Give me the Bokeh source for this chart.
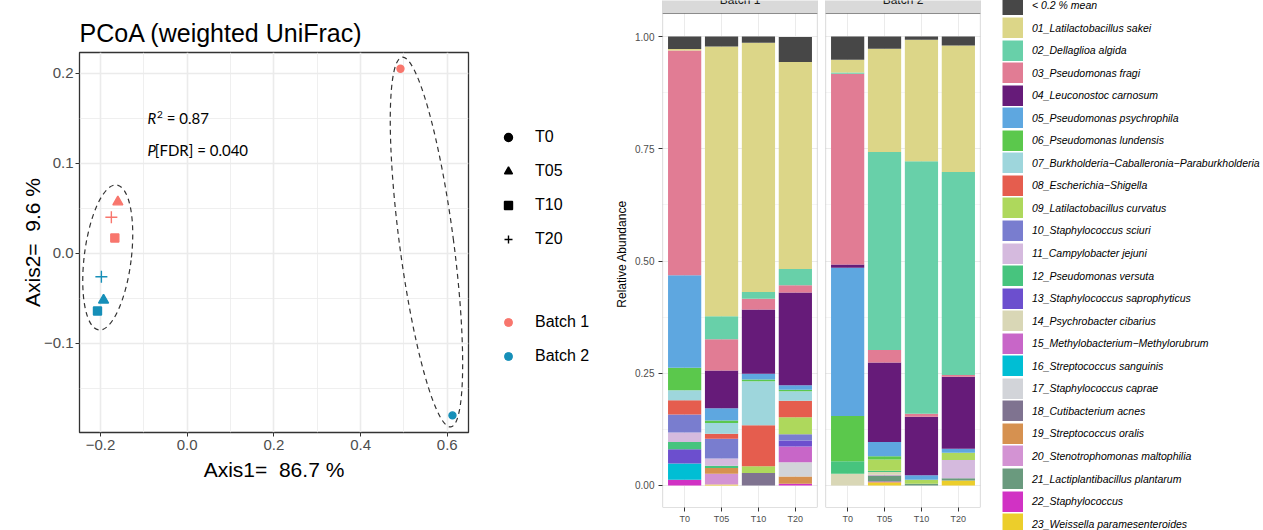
import numpy as np
from bokeh.plotting import figure
from bokeh.layouts import row
from bokeh.models import (ColumnDataSource, Range1d, FactorRange, FixedTicker,
                          CustomJSTickFormatter, PrintfTickFormatter, Legend,
                          LegendItem, Label, BoxAnnotation)
from bokeh.embed import file_html
from bokeh.resources import INLINE

# ---------------- PCoA data ----------------
TIMES = ["T0", "T05", "T10", "T20"]
BATCHES = ["Batch 1", "Batch 2"]
BATCH1_AXIS1 = [0.492, -0.160, -0.167, -0.175]
BATCH1_AXIS2 = [0.205, 0.057, 0.017, 0.040]
BATCH2_AXIS1 = [0.612, -0.193, -0.207, -0.198]
BATCH2_AXIS2 = [-0.180, -0.052, -0.064, -0.026]
BATCH_COLORS = ["#f8766d", "#168fb8"]
TIME_MARKERS = ["circle", "triangle", "square", "cross"]
TIME_SIZES = [7, 10, 8, 12]
X_TICKS = [-0.2, 0.0, 0.2, 0.4, 0.6]
Y_TICKS = [-0.1, 0.0, 0.1, 0.2]
AXIS1_LABEL = "Axis1=\u00a0 86.7 %"
AXIS2_LABEL = "Axis2=\u00a0 9.6 %"
PCOA_TITLE = "PCoA (weighted UniFrac)"
R2_VALUE = "= 0.87"
PFDR_VALUE = "[FDR] = 0.040"
# dashed ellipses: groups of time points, sizes (data units) and tilt
ELLIPSE_GROUPS = [["T05", "T10", "T20"], ["T0"]]
ELLIPSE_WIDTHS = [0.1085, 0.1247]
ELLIPSE_HEIGHTS = [0.1622, 0.4147]
ELLIPSE_ANGLES = [-0.123, 0.131]

# ---------------- composition data ----------------
FACTORS = ["T0", "T05", "T10", "T20"]
TAXA = ["< 0.2 % mean", "01_Latilactobacillus sakei", "02_Dellaglioa algida",
        "03_Pseudomonas fragi", "04_Leuconostoc carnosum", "05_Pseudomonas psychrophila",
        "06_Pseudomonas lundensis", "07_Burkholderia\u2212Caballeronia\u2212Paraburkholderia",
        "08_Escherichia\u2212Shigella", "09_Latilactobacillus curvatus",
        "10_Staphylococcus sciuri", "11_Campylobacter jejuni", "12_Pseudomonas versuta",
        "13_Staphylococcus saprophyticus", "14_Psychrobacter cibarius",
        "15_Methylobacterium\u2212Methylorubrum", "16_Streptococcus sanguinis",
        "17_Staphylococcus caprae", "18_Cutibacterium acnes", "19_Streptococcus oralis",
        "20_Stenotrophomonas maltophilia", "21_Lactiplantibacillus plantarum",
        "22_Staphylococcus", "23_Weissella paramesenteroides"]
TAXA_COLORS = ["#474747", "#dcd688", "#68d0a9", "#e17c94", "#661b79", "#5ea7e0",
               "#5bc84c", "#9ed6dc", "#e55d4e", "#aed85c", "#797dcf", "#d5bade",
               "#47c47e", "#6c4fce", "#d9d7b6", "#c866c8", "#00bed4", "#d2d4d9",
               "#7f7390", "#d69150", "#d393d3", "#6a9a7e", "#d132c4", "#ecce2b"]
B1_T0 = [0.028, 0.003, 0, 0.501, 0, 0.206, 0.050, 0.022, 0.032, 0, 0.040, 0.021,
         0.016, 0.032, 0, 0, 0.036, 0, 0, 0, 0, 0, 0.013, 0]
B1_T05 = [0.022, 0.601, 0.051, 0.070, 0.084, 0.027, 0.006, 0.024, 0.011, 0, 0.044, 0.016,
          0.005, 0, 0, 0, 0, 0, 0, 0.013, 0.024, 0, 0, 0.002]
B1_T10 = [0.014, 0.555, 0.015, 0.024, 0.143, 0.013, 0.004, 0.098, 0.091, 0.015, 0, 0,
          0, 0, 0, 0, 0, 0, 0.028, 0, 0, 0, 0, 0]
B1_T20 = [0.056, 0.461, 0.036, 0.016, 0.207, 0.010, 0.003, 0.021, 0.037, 0.038, 0.014, 0,
          0, 0.013, 0, 0.035, 0, 0.032, 0, 0.016, 0, 0, 0.004, 0]
B2_T0 = [0.052, 0.028, 0.003, 0.425, 0.007, 0.330, 0.101, 0, 0, 0, 0, 0,
         0.028, 0, 0.026, 0, 0, 0, 0, 0, 0, 0, 0, 0]
B2_T05 = [0.027, 0.230, 0.441, 0.028, 0.177, 0.032, 0.007, 0, 0, 0.025, 0, 0,
          0.003, 0, 0.006, 0, 0, 0, 0, 0, 0.002, 0.013, 0.002, 0.007]
B2_T10 = [0.007, 0.271, 0.562, 0.007, 0.130, 0.010, 0, 0, 0, 0.009, 0, 0,
          0, 0, 0, 0, 0, 0, 0, 0, 0, 0.004, 0, 0]
B2_T20 = [0.020, 0.282, 0.452, 0.004, 0.160, 0.009, 0, 0, 0, 0.016, 0, 0.041,
          0, 0, 0, 0, 0, 0, 0, 0, 0, 0.005, 0, 0.011]
BAR_TICKS = [0.0, 0.25, 0.5, 0.75, 1.0]

FONT = "Liberation Sans"
GRID = "#ebebeb"
DARK = "#333333"
TICK_TXT = "#4d4d4d"


def minors(ticks):
    step = ticks[1] - ticks[0]
    mids = [(a + b) / 2 for a, b in zip(ticks[:-1], ticks[1:])]
    return [ticks[0] - step / 2] + mids + [ticks[-1] + step / 2]


def style_axis(ax, tick_size, label_size, standoff, label_standoff):
    ax.axis_line_color = None
    ax.major_tick_line_color = DARK
    ax.major_tick_line_width = 1
    ax.major_tick_out = 4
    ax.major_tick_in = 0
    ax.minor_tick_line_color = None
    ax.major_label_text_font = FONT
    ax.major_label_text_font_size = tick_size
    ax.major_label_text_color = TICK_TXT
    ax.major_label_standoff = standoff
    ax.axis_label_text_font = FONT
    ax.axis_label_text_font_size = label_size
    ax.axis_label_text_font_style = "normal"
    ax.axis_label_text_color = "black"
    ax.axis_label_standoff = label_standoff


def legend_canvas(width):
    f = figure(width=width, height=530, x_range=Range1d(0, 1), y_range=Range1d(0, 1),
               output_backend="svg", toolbar_location=None, x_axis_location=None,
               y_axis_location=None, min_border_left=0, min_border_right=0,
               min_border_top=0, min_border_bottom=0, frame_align=False,
               background_fill_color="white", border_fill_color="white")
    f.outline_line_color = None
    f.xgrid.grid_line_color = None
    f.ygrid.grid_line_color = None
    return f


# ================= PCoA =================
p = figure(width=480, height=530, x_range=Range1d(-0.2485, 0.649),
           y_range=Range1d(-0.199, 0.223), output_backend="svg", toolbar_location=None,
           min_border_left=79, min_border_right=12, min_border_top=52,
           min_border_bottom=98, frame_align=False,
           background_fill_color="white", border_fill_color="white")
p.outline_line_color = DARK
p.outline_line_width = 1.3
p.title.text = PCOA_TITLE
p.title.text_font = FONT
p.title.text_font_size = "25px"
p.title.text_font_style = "normal"
p.title.text_color = "black"
p.title.align = "left"
p.title.standoff = 12

p.xaxis.ticker = FixedTicker(ticks=X_TICKS, minor_ticks=minors(X_TICKS))
p.yaxis.ticker = FixedTicker(ticks=Y_TICKS, minor_ticks=minors(Y_TICKS))
fmt = CustomJSTickFormatter(code="""
const v = Math.abs(tick) < 1e-9 ? 0 : tick;
return (v < 0 ? "\u2212" : "") + Math.abs(v).toFixed(1);
""")
p.xaxis.formatter = fmt
p.yaxis.formatter = fmt
p.xaxis.axis_label = AXIS1_LABEL
p.yaxis.axis_label = AXIS2_LABEL
style_axis(p.xaxis[0], "15px", "21px", 3, 5)
style_axis(p.yaxis[0], "15px", "21px", 2, -3)
for g in (p.xgrid[0], p.ygrid[0]):
    g.grid_line_color = GRID
    g.grid_line_width = 1.6
    g.minor_grid_line_color = GRID
    g.minor_grid_line_width = 0.8

# points
px = BATCH1_AXIS1 + BATCH2_AXIS1
py = BATCH1_AXIS2 + BATCH2_AXIS2
ptime = TIMES * 2
pcol = [BATCH_COLORS[0]] * 4 + [BATCH_COLORS[1]] * 4
pmark = TIME_MARKERS * 2
psize = TIME_SIZES * 2
src = ColumnDataSource(dict(x=px, y=py, t=ptime, color=pcol, marker=pmark, size=psize))
p.scatter(x="x", y="y", marker="marker", size="size", fill_color="color",
          line_color="color", line_width=1.4, source=src)

# ellipses centred on the group means
ecx, ecy = [], []
for grp in ELLIPSE_GROUPS:
    sel = [i for i, t in enumerate(ptime) if t in grp]
    ecx.append(float(np.mean([px[i] for i in sel])))
    ecy.append(float(np.mean([py[i] for i in sel])))
esrc = ColumnDataSource(dict(x=ecx, y=ecy, w=ELLIPSE_WIDTHS, h=ELLIPSE_HEIGHTS,
                             a=ELLIPSE_ANGLES))
p.ellipse(x="x", y="y", width="w", height="h", angle="a", source=esrc,
          fill_alpha=0, line_color=DARK, line_width=1.2, line_dash="5 4")

# statistics annotation
ANNOT_X = -0.0915
R2_Y = 0.1507
P_Y = 0.1148


def lab(text, y, xoff=0, yoff=0, size="15px", style="normal"):
    p.add_layout(Label(x=ANNOT_X, y=y, x_offset=xoff, y_offset=yoff, text=text,
                       text_font="Lato", text_font_size=size, text_font_style=style,
                       text_color="black", text_baseline="alphabetic", text_align="left"))


lab("R", R2_Y, style="italic")
lab("2", R2_Y, xoff=9.5, yoff=3, size="10px")
lab(R2_VALUE, R2_Y, xoff=19.2)
lab("P", P_Y, style="italic")
lab(PFDR_VALUE, P_Y, xoff=7.3)

# ---------- PCoA legends (own canvas, right of the panel) ----------
lp = legend_canvas(120)
dummy = ColumnDataSource(dict(x=np.array([np.nan]), y=np.array([np.nan])))
shape_items = []
for t, m in zip(TIMES, TIME_MARKERS):
    r = lp.scatter(x="x", y="y", marker=m, size=8, fill_color="black",
                   line_color="black", line_width=1.4, source=dummy)
    shape_items.append(LegendItem(label=t, renderers=[r]))
color_items = []
for b, c in zip(BATCHES, BATCH_COLORS):
    r = lp.scatter(x="x", y="y", marker="circle", size=8, fill_color=c,
                   line_color=c, source=dummy)
    color_items.append(LegendItem(label=b, renderers=[r]))


def pcoa_legend(items, loc):
    lg = Legend(items=items, location=loc, orientation="vertical", padding=0, margin=0,
                spacing=4, glyph_width=20, glyph_height=30, label_height=30,
                label_standoff=17, label_text_font=FONT, label_text_font_size="16px",
                label_text_color="black", border_line_color=None,
                background_fill_alpha=0)
    lp.add_layout(lg, "center")


pcoa_legend(shape_items, (18, 276))
pcoa_legend(color_items, (18, 159))

# ================= stacked bars =================
keys = ["k%02d" % i for i in range(len(TAXA))]
stack_keys = keys[::-1]
stack_colors = TAXA_COLORS[::-1]
Y_START, Y_END = -0.049, 1.0802
STRIP_BOTTOM = 1.0512


def make_src(cols):
    d = {"time": FACTORS}
    for i, k in enumerate(keys):
        d[k] = [c[i] for c in cols]
    return ColumnDataSource(d)


def bar_panel(width, mbl, mbr, cols, strip, show_y):
    f = figure(width=width, height=530,
               x_range=FactorRange(*FACTORS, range_padding=0.05),
               y_range=Range1d(Y_START, Y_END), output_backend="svg",
               toolbar_location=None, min_border_left=mbl, min_border_right=mbr,
               min_border_top=0, min_border_bottom=23, frame_align=False,
               y_axis_location="left" if show_y else None,
               background_fill_color="white", border_fill_color="white")
    f.outline_line_color = None
    yt = FixedTicker(ticks=BAR_TICKS, minor_ticks=minors(BAR_TICKS))
    if show_y:
        f.yaxis.ticker = yt
        f.yaxis.formatter = PrintfTickFormatter(format="%.2f")
        f.yaxis.axis_label = "Relative Abundance"
        style_axis(f.yaxis[0], "10px", "12px", 4, 3)
    else:
        f.ygrid.ticker = yt
    style_axis(f.xaxis[0], "9px", "12px", 2, 0)
    f.xgrid.grid_line_color = GRID
    f.xgrid.grid_line_width = 1
    f.ygrid.grid_line_color = GRID
    f.ygrid.grid_line_width = 1
    f.ygrid.minor_grid_line_color = GRID
    f.ygrid.minor_grid_line_width = 0.5
    f.vbar_stack(stack_keys, x="time", width=0.9, source=make_src(cols),
                 fill_color=stack_colors, line_color=None)
    f.add_layout(BoxAnnotation(bottom=STRIP_BOTTOM, top=1.4, fill_color="#d9d9d9",
                               fill_alpha=1, line_color=DARK, line_width=1))
    f.add_layout(BoxAnnotation(top=STRIP_BOTTOM, fill_alpha=0, line_color=DARK,
                               line_width=1.2))
    f.add_layout(Label(x=2.0, y=1.081, text=strip, text_font=FONT, text_font_size="12px",
                       text_color="#1a1a1a", text_align="center",
                       text_baseline="alphabetic"))
    return f


fb1 = bar_panel(220, 62, 3, [B1_T0, B1_T05, B1_T10, B1_T20], BATCHES[0], True)
fb2 = bar_panel(163, 5, 3, [B2_T0, B2_T05, B2_T10, B2_T20], BATCHES[1], False)

# ---------- taxa legend (own canvas, one key per row) ----------
lb = legend_canvas(280)
nan_src = ColumnDataSource(dict(x=np.array([np.nan]), y=np.array([np.nan])))
ROW_FIRST_CENTER = 4.95   # px from top of the canvas
ROW_PITCH = 22.55
KEY_SIZE = 21
for i, (name, col) in enumerate(zip(TAXA, TAXA_COLORS)):
    r = lb.line(x="x", y="y", line_width=KEY_SIZE, line_color=col, line_cap="butt",
                source=nan_src)
    center = ROW_FIRST_CENTER + ROW_PITCH * i
    lg = Legend(items=[LegendItem(label=name, renderers=[r])],
                location=(19, 530 - center - KEY_SIZE / 2), orientation="vertical",
                padding=0, margin=0, spacing=0, glyph_width=KEY_SIZE,
                glyph_height=KEY_SIZE, label_height=KEY_SIZE, label_standoff=9,
                label_text_font=FONT, label_text_font_size="10.5px",
                label_text_font_style="italic", label_text_color="black",
                border_line_color=None, background_fill_alpha=0)
    lb.add_layout(lg, "center")

layout = row(p, lp, fb1, fb2, lb)
open("out.html", "w").write(file_html(layout, INLINE))
